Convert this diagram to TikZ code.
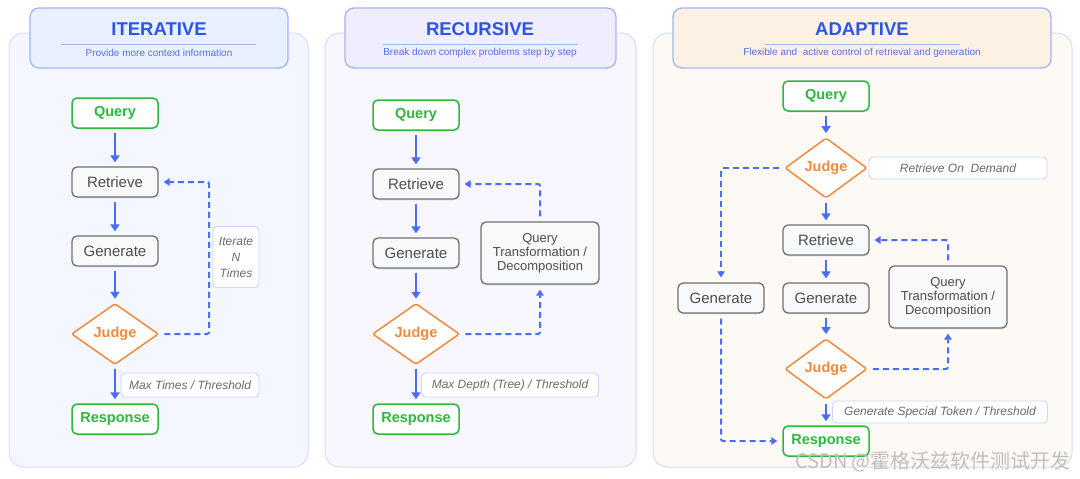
\documentclass[tikz,border=0pt]{standalone}
\usepackage{fontspec}
\setmainfont{Liberation Sans}
\newfontfamily\cjkfont{Noto Sans CJK SC}
\usetikzlibrary{shapes.geometric,arrows.meta,shadows}
\definecolor{flowblue}{HTML}{4A6CF7}
\definecolor{titleblue}{HTML}{2B55E6}
\definecolor{subblue}{HTML}{5572E0}
\definecolor{hdrline}{HTML}{A3B5F5}
\definecolor{okgreen}{HTML}{2EB83E}
\definecolor{judgeorange}{HTML}{F08A3C}
\definecolor{boxgray}{HTML}{707070}
\definecolor{boxfill}{HTML}{F8F9FB}
\definecolor{textgray}{HTML}{4D4D4D}
\definecolor{lblborder}{HTML}{C9D5FA}
\definecolor{lbltext}{HTML}{6A6A6A}
\definecolor{pAfill}{HTML}{F4F7FF}
\definecolor{pAline}{HTML}{D5E0FD}
\definecolor{hAfill}{HTML}{E9F0FF}
\definecolor{pBfill}{HTML}{F8F6FF}
\definecolor{pBline}{HTML}{DCDBFB}
\definecolor{hBfill}{HTML}{F0EDFF}
\definecolor{pCfill}{HTML}{FDF9F4}
\definecolor{pCline}{HTML}{D6DCF6}
\definecolor{hCfill}{HTML}{FCF1E3}
\tikzset{
  panelbox/.style={rounded corners=15pt, line width=1pt},
  hdrbox/.style={rounded corners=9pt, line width=1.3pt, draw=hdrline},
  titletext/.style={text=titleblue, font=\bfseries\fontsize{18.5}{20}\selectfont},
  subtext/.style={text=subblue, font=\fontsize{10}{12}\selectfont},
  softshadow/.style={drop shadow={opacity=0.12, shadow xshift=0pt, shadow yshift=-1.5pt}},
  greenbox/.style={rectangle, rounded corners=5pt, draw=okgreen, line width=1.5pt, fill=white,
    text=okgreen, font=\bfseries\fontsize{14.5}{16}\selectfont, minimum width=86pt, minimum height=30pt, inner sep=1pt, softshadow},
  graybox/.style={rectangle, rounded corners=5pt, draw=boxgray, line width=1.3pt, fill=boxfill,
    text=textgray, font=\fontsize{15}{17}\selectfont, minimum width=86pt, minimum height=30pt, inner sep=1pt, softshadow},
  qtbox/.style={graybox, font=\fontsize{13}{14}\selectfont, align=center, minimum width=118pt, minimum height=62pt},
  judgenode/.style={diamond, draw=judgeorange, line width=1.5pt, fill=white, rounded corners=2pt,
    text=judgeorange, font=\bfseries\fontsize{14.5}{16}\selectfont, minimum width=87pt, minimum height=61pt, inner sep=1pt},
  judgesmall/.style={judgenode, minimum width=82pt, minimum height=57pt},
  lblbox/.style={rectangle, rounded corners=4pt, draw=lblborder, line width=0.9pt, fill=white,
    text=lbltext, font=\itshape\fontsize{12}{16}\selectfont, minimum height=24pt, inner sep=1pt, align=center},
  flow/.style={draw=flowblue, line width=2.8pt, -{Triangle[length=7pt,width=9pt]}, shorten <=4pt, shorten >=4pt},
  dashflow/.style={draw=flowblue, line width=2pt, dash pattern=on 6pt off 4pt, rounded corners=2pt,
    -{Triangle[length=6pt,width=7.5pt]}, shorten <=5pt, shorten >=5pt},
}
\begin{document}
\begin{tikzpicture}[x=1pt,y=-1pt]
\useasboundingbox (0,0) rectangle (1080,479);
\fill[white] (0,0) rectangle (1080,479);
% panels
\draw[panelbox, fill=pAfill, draw=pAline] (9,33) rectangle (308,467);
\draw[panelbox, fill=pBfill, draw=pBline] (325,33) rectangle (636,467);
\draw[panelbox, fill=pCfill, draw=pCline] (653,33) rectangle (1072,467);
% headers
\draw[hdrbox, fill=hAfill] (30,8) rectangle (288,68);
\draw[hdrbox, fill=hBfill] (345,8) rectangle (616,68);
\draw[hdrbox, fill=hCfill] (673,8) rectangle (1051,68);
\draw[hdrline, line width=1pt] (61,44) -- (256,44);
\draw[hdrline, line width=1pt] (383,44) -- (578,44);
\draw[hdrline, line width=1pt] (765,44) -- (960,44);
\node[titletext] (tA) at (159,29) {ITERATIVE};
\node[subtext] (sA) at (159,53) {Provide more context information};
\node[titletext] (tB) at (480,29) {RECURSIVE};
\node[subtext] (sB) at (480,53) {Break down complex problems step by step};
\node[titletext] (tC) at (862,29) {ADAPTIVE};
\node[subtext] (sC) at (862,53) {Flexible and\ \ active control of retrieval and generation};

% ITERATIVE
\node[greenbox] (q1) at (115,113) {Query};
\node[graybox] (r1) at (115,182) {Retrieve};
\node[graybox] (g1) at (115,251) {Generate};
\node[judgenode] (j1) at (115,334) {Judge};
\node[greenbox] (s1) at (115,419) {Response};
\node[lblbox, minimum width=138pt] (m1) at (190,385) {Max Times / Threshold};
\node[lblbox, minimum width=46pt, minimum height=61pt] (n1) at (236,257) {Iterate\\N\\Times};
\coordinate (c1) at (209,182);
\draw[flow] (q1) -- (r1);
\draw[flow] (r1) -- (g1);
\draw[flow] (g1) -- (j1);
\draw[flow] (j1) -- (s1);
\draw[dashflow] (j1.east) -| (c1) -- (r1.east);

% RECURSIVE
\node[greenbox] (q2) at (416,115) {Query};
\node[graybox] (r2) at (416,184) {Retrieve};
\node[graybox] (g2) at (416,253) {Generate};
\node[judgenode] (j2) at (416,334) {Judge};
\node[greenbox] (s2) at (416,419) {Response};
\node[qtbox] (t2) at (540,253) {Query\\Transformation /\\Decomposition};
\node[lblbox, minimum width=177pt] (m2) at (510,385) {Max Depth (Tree) / Threshold};
\draw[flow] (q2) -- (r2);
\draw[flow] (r2) -- (g2);
\draw[flow] (g2) -- (j2);
\draw[flow] (j2) -- (s2);
\draw[dashflow] (j2.east) -| (t2.south);
\draw[dashflow] (t2.north) |- (r2.east);

% ADAPTIVE
\node[greenbox] (q3) at (826,96) {Query};
\node[judgesmall] (ja) at (826,168) {Judge};
\node[lblbox, minimum width=178pt, minimum height=22pt] (d3) at (958,168) {Retrieve On\ \ Demand};
\node[graybox] (r3) at (826,240) {Retrieve};
\node[graybox] (g3) at (826,298) {Generate};
\node[graybox] (gl) at (721,298) {Generate};
\node[qtbox] (t3) at (948,297) {Query\\Transformation /\\Decomposition};
\node[judgesmall] (jb) at (826,369) {Judge};
\node[lblbox, minimum width=215pt, minimum height=22pt] (m3) at (940,412) {Generate Special Token / Threshold};
\node[greenbox] (s3) at (826,441) {Response};
\draw[flow] (q3) -- (ja);
\draw[flow] (ja) -- (r3);
\draw[flow] (r3) -- (g3);
\draw[flow] (g3) -- (jb);
\draw[flow] (jb) -- (s3);
\draw[dashflow] (ja.west) -| (gl.north);
\draw[dashflow] (gl.south) |- (s3.west);
\draw[dashflow] (jb.east) -| (t3.south);
\draw[dashflow] (t3.north) |- (r3.east);

% watermark
\node[text=gray!50, font=\cjkfont\fontsize{20}{22}\selectfont] (wm) at (933,462) {CSDN @霍格沃兹软件测试开发};
\end{tikzpicture}
\end{document}
